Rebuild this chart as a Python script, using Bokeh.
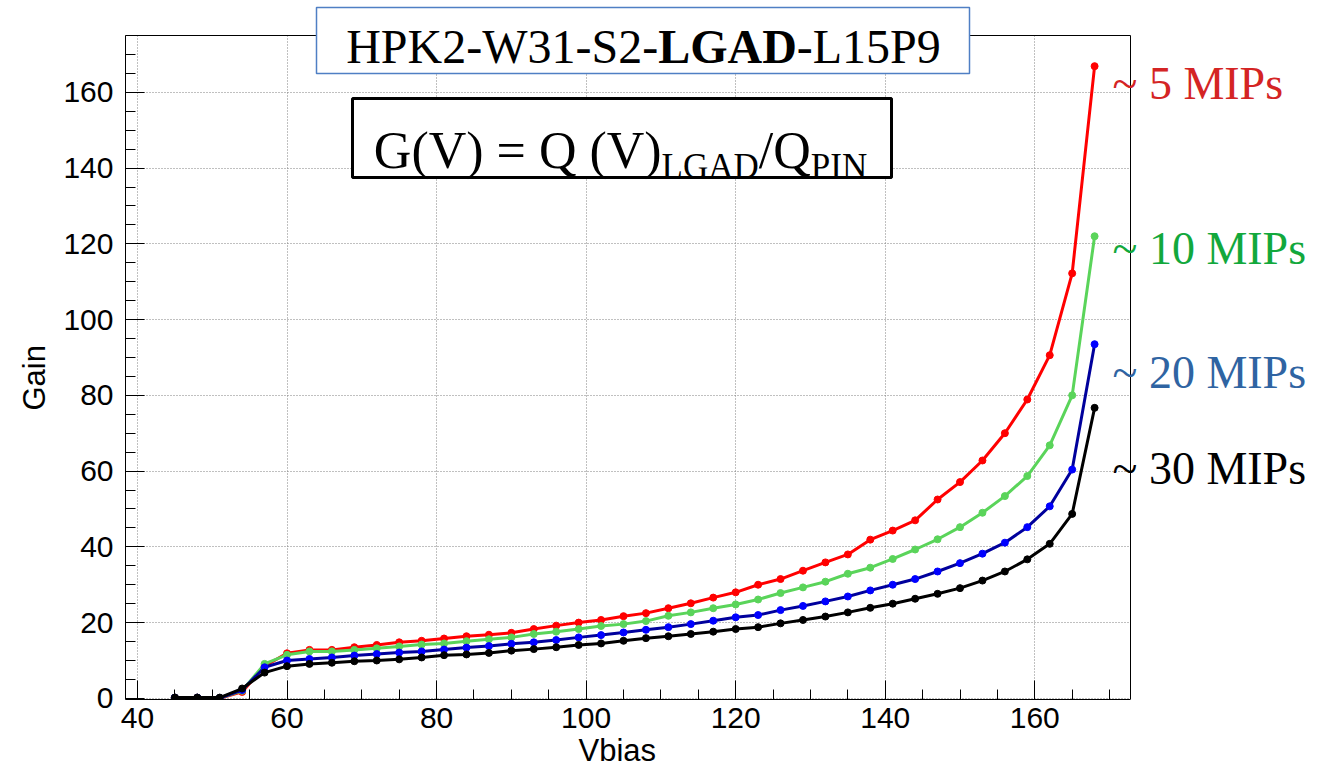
import math
from bokeh.plotting import figure
from bokeh.models import (ColumnDataSource, Label, BoxAnnotation, SingleIntervalTicker,
                          Range1d, Grid, Title)
from bokeh.embed import file_html
from bokeh.resources import INLINE

# ---------------- data ----------------
vbias = [45, 48, 51, 54, 57, 60, 63, 66, 69, 72, 75, 78, 81, 84, 87, 90, 93, 96, 99, 102,
         105, 108, 111, 114, 117, 120, 123, 126, 129, 132, 135, 138, 141, 144, 147, 150,
         153, 156, 159, 162, 165, 168]

gain_5mips = [0.2, 0.2, 0.0, 1.7, 8.5, 11.9, 12.8, 12.8, 13.5, 14.1, 14.8, 15.2, 15.8, 16.4,
              16.8, 17.3, 18.3, 19.2, 20.0, 20.7, 21.7, 22.5, 23.8, 25.1, 26.6, 28.0, 30.0,
              31.5, 33.7, 35.9, 38.0, 41.9, 44.3, 47.0, 52.5, 57.1, 62.8, 70.0, 78.9, 90.6,
              112.2, 166.9]

gain_10mips = [0.2, 0.2, 0.1, 2.0, 9.1, 11.5, 12.4, 12.4, 12.8, 13.2, 13.7, 14.2, 14.5, 15.1,
               15.6, 16.1, 17.0, 17.6, 18.3, 19.1, 19.6, 20.4, 21.8, 22.7, 23.8, 24.8, 26.1,
               27.8, 29.3, 30.8, 32.9, 34.5, 36.8, 39.3, 42.0, 45.2, 49.0, 53.4, 58.7, 66.8,
               80.0, 122.0]

gain_20mips = [0.2, 0.2, 0.1, 2.2, 8.2, 10.0, 10.4, 10.8, 11.3, 11.7, 12.1, 12.4, 12.9, 13.4,
               13.8, 14.4, 14.8, 15.4, 16.1, 16.7, 17.4, 18.1, 18.8, 19.6, 20.5, 21.4, 22.0,
               23.3, 24.4, 25.6, 26.9, 28.5, 30.0, 31.5, 33.5, 35.7, 38.2, 41.1, 45.2, 50.7,
               60.4, 93.5]

gain_30mips = [0.2, 0.2, 0.2, 2.6, 6.8, 8.5, 9.1, 9.4, 9.8, 10.0, 10.3, 10.8, 11.4, 11.6,
               12.0, 12.6, 13.0, 13.5, 14.1, 14.5, 15.2, 15.9, 16.4, 17.0, 17.6, 18.3, 18.8,
               19.8, 20.7, 21.6, 22.7, 23.9, 25.0, 26.3, 27.6, 29.1, 31.1, 33.5, 36.7, 40.8,
               48.7, 76.7]

series_names = ["~ 5 MIPs", "~ 10 MIPs", "~ 20 MIPs", "~ 30 MIPs"]
title_parts = ["HPK2-W31-S2-", "LGAD", "-L15P9"]
x_label = "Vbias"
y_label = "Gain"

# ---------------- geometry ----------------
W, H = 1310, 780
FL, FB = 125, 81              # left / bottom borders (px) -> frame left 125, bottom 699
VIS_W, VIS_H = 1005, 664      # visible plot box (px)
FR_W, FR_H = W - FL, H - FB   # frame extended to right / top edge for the labels

x_lo, x_hi = 38.4, 172.8      # visible axis ranges
y_lo, y_hi = -0.3, 175.0
x_ext = x_lo + (x_hi - x_lo) * FR_W / VIS_W
y_ext = y_lo + (y_hi - y_lo) * FR_H / VIS_H

p = figure(width=W, height=H, output_backend="svg", toolbar_location=None,
           x_range=Range1d(x_lo, x_ext), y_range=Range1d(y_lo, y_ext),
           min_border_left=FL, min_border_right=0, min_border_top=0, min_border_bottom=FB,
           background_fill_color="white", border_fill_color="white")
p.outline_line_color = None

for ax in (p.xaxis[0], p.yaxis[0]):
    ax.ticker = SingleIntervalTicker(interval=20, num_minor_ticks=4)
    ax.major_tick_in = 19
    ax.major_tick_out = 0
    ax.minor_tick_in = 10
    ax.minor_tick_out = 0
    ax.major_tick_line_color = "black"
    ax.minor_tick_line_color = "black"
    ax.axis_line_color = "black"
    ax.axis_line_width = 1
    ax.major_label_text_font = "Liberation Sans"
    ax.major_label_text_font_size = "30px"
    ax.major_label_text_color = "black"
p.xaxis.bounds = (x_lo, x_hi)
p.yaxis.bounds = (y_lo, y_hi)
p.xaxis.major_label_standoff = 8
p.yaxis.major_label_standoff = 12

# axis titles as side-panel titles (positioned along the visible box)
p.add_layout(Title(text=x_label, align="left", offset=578 - FL, standoff=0,
                   text_font="Liberation Sans", text_font_size="31px",
                   text_font_style="normal", text_color="black"), "below")
p.add_layout(Title(text=y_label, align="left", offset=(H - FB) - 410, standoff=17,
                   text_font="Liberation Sans", text_font_size="31px",
                   text_font_style="normal", text_color="black"), "left")

p.grid.grid_line_color = "#808080"
p.grid.grid_line_dash = "1 2"
p.grid.grid_line_width = 1
p.xgrid.bounds = (x_lo, x_hi)
p.ygrid.bounds = (y_lo, y_hi)
if "cross_bounds" in Grid.properties():
    p.xgrid.cross_bounds = (y_lo, y_hi)
    p.ygrid.cross_bounds = (x_lo, x_hi)

# visible box: top and right edges
p.segment(x0=[x_lo, x_hi], y0=[y_hi, y_lo], x1=[x_hi, x_hi], y1=[y_hi, y_hi],
          line_color="black", line_width=1)

src = ColumnDataSource(dict(v=vbias, g5=gain_5mips, g10=gain_10mips, g20=gain_20mips, g30=gain_30mips))

styles = [("g5", "#ff0000", "#ff0000"),
          ("g10", "#5ad45a", "#5ad45a"),
          ("g20", "#00009c", "#0000ff"),
          ("g30", "#000000", "#000000")]
for col, lc, mc in styles:
    p.line("v", col, source=src, line_color=lc, line_width=3)
    p.scatter("v", col, source=src, marker="circle", size=7, fill_color=mc, line_color=mc)

# helpers: page coords -> frame screen units (frame left/bottom at page 125 / 699)
PX0, PY0 = FL, H - FB
def sx(X):
    return X - PX0
def sy(Y):
    return PY0 - Y

# ---------------- title box ----------------
p.add_layout(BoxAnnotation(left=sx(316), right=sx(969), top=sy(7), bottom=sy(73),
                           left_units="screen", right_units="screen",
                           top_units="screen", bottom_units="screen",
                           fill_color="white", fill_alpha=1.0,
                           line_color="#4f7fc4", line_alpha=1.0, line_width=1.5,
                           level="overlay"))
TF = 48
reg = {"H": .722, "P": .556, "K": .722, "2": .5, "-": .333, "W": .944, "3": .5, "1": .5,
       "S": .556, "L": .611, "5": .5, "9": .5}
bold = {"L": .667, "G": .778, "A": .722, "D": .722}
w0 = sum(reg[c] for c in title_parts[0]) * TF
w1 = sum(bold[c] for c in title_parts[1]) * TF
w2 = sum(reg[c] for c in title_parts[2]) * TF
start = 643 - (w0 + w1 + w2) / 2
for txt, X, st in [(title_parts[0], start, "normal"),
                   (title_parts[1], start + w0, "bold"),
                   (title_parts[2], start + w0 + w1, "normal")]:
    p.add_layout(Label(x=sx(X), y=sy(46), x_units="screen", y_units="screen", text=txt,
                       text_font="Liberation Serif", text_font_size=f"{TF}px",
                       text_font_style=st, text_color="black",
                       text_align="left", text_baseline="alphabetic", level="overlay"))

# ---------------- formula box ----------------
p.add_layout(BoxAnnotation(left=sx(352), right=sx(891), top=sy(98), bottom=sy(177),
                           left_units="screen", right_units="screen",
                           top_units="screen", bottom_units="screen",
                           fill_color="white", fill_alpha=1.0,
                           line_color="black", line_alpha=1.0, line_width=3,
                           level="overlay"))
MF, SF = 52, 35
wa = 5.534 * MF
wb = 2.777 * SF
wc = 1.0 * MF
wd = 1.611 * SF
fstart = 620 - (wa + wb + wc + wd) / 2
formula = [("G(V) = Q (V)", fstart, 150, MF),
           ("LGAD", fstart + wa, 166, SF),
           ("/Q", fstart + wa + wb, 150, MF),
           ("PIN", fstart + wa + wb + wc, 166, SF)]
for txt, X, Y, fs in formula:
    p.add_layout(Label(x=sx(X), y=sy(Y), x_units="screen", y_units="screen", text=txt,
                       text_font="Liberation Serif", text_font_size=f"{fs}px",
                       text_color="black", text_align="left", text_baseline="alphabetic",
                       level="overlay"))

# ---------------- right-hand labels ----------------
label_colors = ["#d42424", "#12a83c", "#2f64a2", "#000000"]
label_baselines = [83, 248, 372, 468]
for txt, c, Y in zip(series_names, label_colors, label_baselines):
    p.add_layout(Label(x=sx(1112), y=sy(Y), x_units="screen", y_units="screen", text=txt,
                       text_font="Liberation Serif", text_font_size="46px",
                       text_color=c, text_align="left", text_baseline="alphabetic"))

open("out.html", "w").write(file_html(p, INLINE))
